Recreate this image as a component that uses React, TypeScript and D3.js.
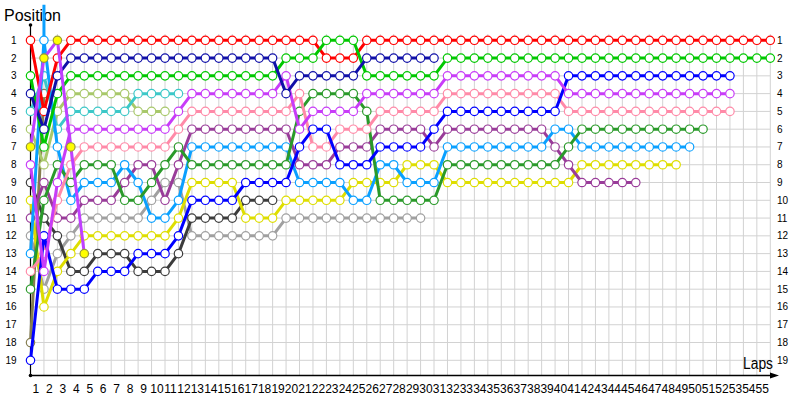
import React, { useEffect, useRef } from "react";
import * as d3 from "d3";

// position of each driver per lap, index 0 = grid
const red = [
  1, 5, 2, 1, 1, 1, 1, 1, 1, 1,
  1, 1, 1, 1, 1, 1, 1, 1, 1, 1,
  1, 1, 2, 2, 2, 1, 1, 1, 1, 1,
  1, 1, 1, 1, 1, 1, 1, 1, 1, 1,
  1, 1, 1, 1, 1, 1, 1, 1, 1, 1,
  1, 1, 1, 1, 1, 1,
];
const green = [
  3, 7, 4, 3, 3, 3, 3, 3, 3, 3,
  3, 3, 3, 3, 3, 3, 3, 3, 3, 2,
  2, 2, 1, 1, 1, 3, 3, 3, 3, 3,
  3, 2, 2, 2, 2, 2, 2, 2, 2, 2,
  2, 2, 2, 2, 2, 2, 2, 2, 2, 2,
  2, 2, 2, 2, 2, 2,
];
const navy = [
  4, 6, 3, 2, 2, 2, 2, 2, 2, 2,
  2, 2, 2, 2, 2, 2, 2, 2, 2, 4,
  3, 3, 3, 3, 3, 2, 2, 2, 2, 2,
  2,
];
const blue = [
  19, 12, 15, 15, 15, 14, 14, 14, 13, 13,
  13, 12, 10, 10, 10, 10, 9, 9, 9, 9,
  7, 6, 6, 8, 8, 8, 7, 7, 7, 7,
  6, 5, 5, 5, 5, 5, 5, 5, 5, 5,
  3, 3, 3, 3, 3, 3, 3, 3, 3, 3,
  3, 3, 3,
];
const violet = [
  8, 14, 9, 6, 6, 6, 6, 6, 6, 6,
  6, 5, 4, 4, 4, 4, 4, 4, 4, 3,
  6, 5, 5, 5, 5, 4, 4, 4, 4, 4,
  4, 3, 3, 3, 3, 3, 3, 3, 3, 3,
  4, 4, 4, 4, 4, 4, 4, 4, 4, 4,
  4, 4, 4,
];
const pink = [
  14, 13, 10, 8, 7, 7, 7, 7, 7, 7,
  7, 6, 5, 5, 5, 5, 5, 5, 5, 5,
  4, 7, 7, 6, 6, 6, 5, 5, 5, 5,
  5, 4, 4, 4, 4, 4, 4, 4, 4, 4,
  5, 5, 5, 5, 5, 5, 5, 5, 5, 5,
  5, 5, 5,
];
const darkGreen = [
  15, 10, 8, 9, 8, 8, 8, 10, 10, 9,
  8, 7, 8, 8, 8, 8, 8, 8, 8, 8,
  5, 4, 4, 4, 4, 5, 10, 10, 10, 10,
  10, 8, 8, 8, 8, 8, 8, 8, 8, 8,
  7, 6, 6, 6, 6, 6, 6, 6, 6, 6,
  6,
];
const sky = [
  13, 1, 7, 10, 9, 9, 9, 8, 9, 11,
  11, 10, 7, 7, 7, 7, 7, 7, 7, 7,
  9, 9, 9, 9, 10, 10, 8, 8, 9, 9,
  9, 7, 7, 7, 7, 7, 7, 7, 7, 6,
  6, 7, 7, 7, 7, 7, 7, 7, 7, 7,
];
const yellow = [
  10, 16, 14, 13, 12, 12, 12, 12, 12, 12,
  12, 11, 9, 9, 9, 9, 11, 11, 11, 10,
  10, 10, 10, 10, 9, 9, 9, 9, 8, 8,
  8, 9, 9, 9, 9, 9, 9, 9, 9, 9,
  9, 8, 8, 8, 8, 8, 8, 8, 8,
];
const purple = [
  11, 9, 11, 11, 10, 10, 10, 9, 8, 8,
  10, 8, 6, 6, 6, 6, 6, 6, 6, 6,
  8, 8, 8, 7, 7, 7, 6, 6, 6, 6,
  7, 6, 6, 6, 6, 6, 6, 6, 6, 7,
  8, 9, 9, 9, 9, 9,
];
const gray = [
  12, 15, 13, 12, 11, 11, 11, 11, 11, 10,
  9, 9, 12, 12, 12, 12, 12, 12, 12, 11,
  11, 11, 11, 11, 11, 11, 11, 11, 11, 11,
];
const cyan = [5, 3, 6, 5, 5, 5, 5, 5, 4, 4, 4, 4];
const olive = [6, 8, 5, 4, 4, 4, 4, 4, 5, 5, 5];
const charcoal = [9, 11, 12, 14, 14, 13, 13, 13, 14, 14, 14, 13, 11, 11, 11, 11, 10, 10, 10];
const khaki = [18, 4];
const highlighted = [7, 2, 1, 7, 13];
// line leaving the top of the chart on lap 1
const stubLaps = [1, 1];
const stubPos = [-1, 1];

const lapTicks = d3.range(1, 56);
const posTicks = d3.range(1, 20);

const drivers = [
  { pos: gray, color: "#a0a0a0" },
  { pos: charcoal, color: "#3c3c3c" },
  { pos: khaki, color: "#857d50" },
  { pos: olive, color: "#a8c86a" },
  { pos: cyan, color: "#3cc8c8" },
  { pos: yellow, color: "#dede00" },
  { pos: purple, color: "#993c99" },
  { pos: sky, color: "#0aa0ff" },
  { pos: darkGreen, color: "#2a9a2a" },
  { pos: pink, color: "#ff8aa8" },
  { pos: blue, color: "#0000ff" },
  { pos: violet, color: "#c83cf8" },
  { pos: red, color: "#ff0000" },
  { pos: green, color: "#00c800" },
  { pos: navy, color: "#1010a8" },
  { pos: highlighted, color: "#c040ff", fill: "#ffff00", ring: "#999933" },
];

const font = "Tahoma, 'Liberation Sans', Arial, sans-serif";

const App: React.FC = () => {
  const ref = useRef<SVGSVGElement>(null);

  useEffect(() => {
    const svg = d3.select(ref.current);
    svg.selectAll("*").remove();

    const x = d3.scaleLinear().domain([0, 55]).range([30.5, 770.3]);
    const y = d3.scaleLinear().domain([1, 19]).range([40.3, 360.3]);
    const axisY = 375.5;

    // grid
    const grid = svg.append("g").attr("stroke", "#d2d2d2").attr("stroke-width", 1);
    grid
      .selectAll("line.v")
      .data(lapTicks)
      .enter()
      .append("line")
      .attr("x1", (d) => x(d))
      .attr("x2", (d) => x(d))
      .attr("y1", 34)
      .attr("y2", axisY);
    grid
      .selectAll("line.h")
      .data(posTicks)
      .enter()
      .append("line")
      .attr("x1", x(0))
      .attr("x2", x(55))
      .attr("y1", (d) => y(d))
      .attr("y2", (d) => y(d));

    // axes
    svg
      .append("line")
      .attr("x1", x(0))
      .attr("x2", x(0))
      .attr("y1", 25)
      .attr("y2", axisY)
      .attr("stroke", "#000")
      .attr("stroke-width", 1.2);
    svg
      .append("line")
      .attr("x1", x(0))
      .attr("x2", 772)
      .attr("y1", axisY)
      .attr("y2", axisY)
      .attr("stroke", "#000")
      .attr("stroke-width", 1.5);
    svg
      .append("path")
      .attr("d", `M770,${axisY - 3}L779,${axisY}L770,${axisY + 3}Z`)
      .attr("fill", "#000");
    svg.append("circle").attr("cx", x(0)).attr("cy", 25).attr("r", 1.8).attr("fill", "#000");
    svg.append("circle").attr("cx", x(0)).attr("cy", axisY).attr("r", 1.8).attr("fill", "#000");

    // tick labels
    svg
      .selectAll("text.lap")
      .data(lapTicks)
      .enter()
      .append("text")
      .attr("x", (d) => x(d) - 8)
      .attr("y", 393)
      .attr("text-anchor", "middle")
      .style("font-family", font)
      .style("font-size", "12px")
      .text((d) => d);
    svg
      .selectAll("text.left")
      .data(posTicks)
      .enter()
      .append("text")
      .attr("x", 16.5)
      .attr("y", (d) => y(d) + 3.5)
      .attr("text-anchor", "end")
      .style("font-family", font)
      .style("font-size", "10px")
      .text((d) => d);
    svg
      .selectAll("text.right")
      .data(posTicks)
      .enter()
      .append("text")
      .attr("x", 777)
      .attr("y", (d) => y(d) + 3.5)
      .attr("text-anchor", "start")
      .style("font-family", font)
      .style("font-size", "10px")
      .text((d) => d);

    svg
      .append("text")
      .attr("x", 4)
      .attr("y", 20.7)
      .attr("textLength", 57)
      .attr("lengthAdjust", "spacingAndGlyphs")
      .style("font-family", font)
      .style("font-size", "16px")
      .text("Position");
    svg
      .append("text")
      .attr("x", 743)
      .attr("y", 368.5)
      .attr("textLength", 30)
      .attr("lengthAdjust", "spacingAndGlyphs")
      .style("font-family", font)
      .style("font-size", "16px")
      .text("Laps");

    const line = d3
      .line<number>()
      .x((_d, i) => x(i))
      .y((d) => y(d));

    // stub leaving the chart
    const stub = d3
      .line<number>()
      .x((_d, i) => x(stubLaps[i]))
      .y((d) => y(d));
    svg
      .append("path")
      .attr("d", stub(stubPos))
      .attr("fill", "none")
      .attr("stroke", "#0aa0ff")
      .attr("stroke-width", 3);

    drivers.forEach((dr) => {
      const g = svg.append("g");
      g.append("path")
        .attr("d", line(dr.pos))
        .attr("fill", "none")
        .attr("stroke", dr.color)
        .attr("stroke-width", 3)
        .attr("stroke-linejoin", "round");
      g.selectAll("circle")
        .data(dr.pos)
        .enter()
        .append("circle")
        .attr("cx", (_d, i) => x(i))
        .attr("cy", (d) => y(d))
        .attr("r", 4.2)
        .attr("fill", dr.fill ?? "#fff")
        .attr("stroke", dr.ring ?? dr.color)
        .attr("stroke-width", 1.2);
    });
  }, []);

  return (
    <svg
      ref={ref}
      width={800}
      height={400}
      style={{ position: "absolute", left: 0, top: 0, background: "#fff" }}
    />
  );
};

export default App;
